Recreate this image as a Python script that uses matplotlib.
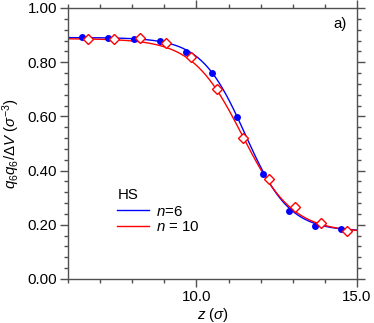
import numpy as np
import matplotlib
matplotlib.use("Agg")
import matplotlib.pyplot as plt
from matplotlib.ticker import MultipleLocator, FormatStrFormatter

plt.rcParams['font.family'] = ['Liberation Sans', 'DejaVu Sans']
plt.rcParams['mathtext.fontset'] = 'custom'
plt.rcParams['mathtext.rm'] = 'Liberation Sans'
plt.rcParams['mathtext.it'] = 'Liberation Sans:italic'

# data points (n=6, filled blue circles)
z_n6 = [6.44, 7.24, 8.04, 8.85, 9.67, 10.47, 11.27, 12.06, 12.87, 13.69, 14.50]
q_n6 = [0.892, 0.890, 0.886, 0.877, 0.839, 0.761, 0.596, 0.387, 0.252, 0.197, 0.183]
# data points (n=10, open red diamonds)
z_n10 = [6.63, 7.44, 8.24, 9.05, 9.82, 10.65, 11.45, 12.27, 13.07, 13.88, 14.68]
q_n10 = [0.884, 0.885, 0.889, 0.870, 0.820, 0.700, 0.521, 0.368, 0.266, 0.206, 0.176]

# tanh fit parameters: high, low, centre, width
fit_n6 = (0.891, 0.176, 11.52, 1.37)
fit_n10 = (0.887, 0.172, 11.43, 1.56)

def profile(z, p):
    hi, lo, z0, w = p
    return 0.5 * (hi + lo) - 0.5 * (hi - lo) * np.tanh((z - z0) / w)

FS = 10.8
fig = plt.figure(figsize=(3.74, 3.23), dpi=100)
ax = fig.add_axes([68/374, 1 - 279/323, (357-68)/374, (279-8)/323])

zz = np.linspace(6, 15, 400)
ax.plot(zz, profile(zz, fit_n6), color='#0000ff', lw=1.0, label='$n$=6')
ax.plot(zz, profile(zz, fit_n10), color='#ff0000', lw=1.0, label='$n$ = 10')
ax.plot(z_n6, q_n6, 'o', color='#0000ff', ms=5, mew=0, zorder=3)
ax.plot(z_n10, q_n10, 'D', mfc='white', mec='#ff0000', ms=4.6, mew=1.0, zorder=3)

ax.set_xlim(6, 15)
ax.set_ylim(0, 1.0)
ax.xaxis.set_major_locator(MultipleLocator(5))
ax.xaxis.set_minor_locator(MultipleLocator(1))
ax.yaxis.set_major_locator(MultipleLocator(0.2))
ax.yaxis.set_minor_locator(MultipleLocator(0.04))
ax.xaxis.set_major_formatter(FormatStrFormatter('%.1f'))
ax.yaxis.set_major_formatter(FormatStrFormatter('%.2f'))

spine_c = '#505050'
for s in ax.spines.values():
    s.set_color(spine_c)
    s.set_linewidth(1.0)
ax.tick_params(which='both', direction='out', color=spine_c, top=True, right=True,
               labelsize=FS, width=1.0, pad=2)
ax.tick_params(which='major', length=6)
ax.tick_params(which='minor', length=3)

ax.set_xlabel('$z$ ($\\sigma$)', fontsize=FS, labelpad=1)
ax.set_ylabel('$q_6q_6/\\Delta V$ ($\\sigma^{-3}$)', fontsize=FS, labelpad=4)

ax.text(0.965, 0.941, 'a)', transform=ax.transAxes, ha='right', va='center', fontsize=FS)

leg = ax.legend(loc='lower left', bbox_to_anchor=(0.145, 0.138), frameon=False,
                title='HS', fontsize=FS, title_fontsize=FS, handlelength=2.1,
                handletextpad=0.5, labelspacing=0.1, borderpad=0)
leg._legend_box.align = 'left'
leg._legend_box.sep = 2

fig.savefig('out.png', dpi=100)
